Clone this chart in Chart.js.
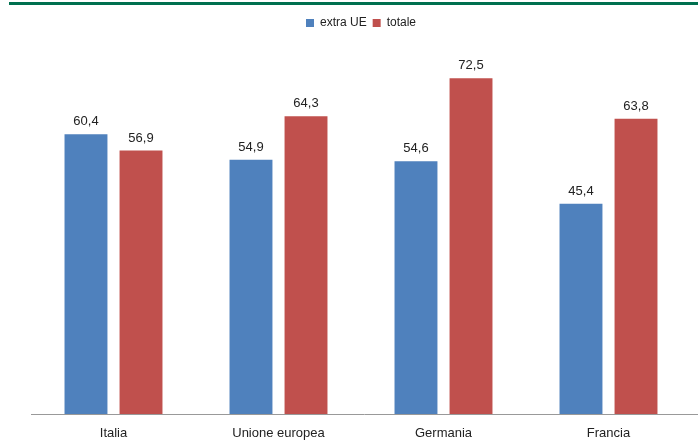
<!DOCTYPE html>
<html>
<head>
<meta charset="utf-8">
<script src="https://cdn.jsdelivr.net/npm/chart.js@4/dist/chart.umd.min.js"></script>
<style>
  html, body { margin: 0; padding: 0; background: #fff; }
  #wrap { position: relative; width: 698px; height: 445px; }
</style>
</head>
<body>
<div id="wrap"><canvas id="c" width="698" height="445"></canvas></div>
<script>
const categories = ['Italia', 'Unione europea', 'Germania', 'Francia'];
const extraUE = [60.4, 54.9, 54.6, 45.4];
const totale = [56.9, 64.3, 72.5, 63.8];
const seriesNames = ['extra UE', 'totale'];

const FONT = "'Liberation Sans', Arial, sans-serif";

const fmt = v => v.toFixed(1).replace('.', ',');

// Green rule across the top, baseline running to the right edge,
// and value labels above each bar
const decor = {
  id: 'decor',
  beforeDraw(chart) {
    const ctx = chart.ctx;
    ctx.save();
    ctx.fillStyle = '#00704f';
    ctx.fillRect(9, 2, 689, 3);
    ctx.restore();
  },
  afterDatasetsDraw(chart) {
    const ctx = chart.ctx;
    const area = chart.chartArea;
    ctx.save();
    ctx.strokeStyle = '#999';
    ctx.lineWidth = 1;
    ctx.beginPath();
    ctx.moveTo(area.left, Math.round(area.bottom) + 0.5);
    ctx.lineTo(chart.width, Math.round(area.bottom) + 0.5);
    ctx.stroke();

    ctx.font = '13px ' + FONT;
    ctx.fillStyle = '#222';
    ctx.textAlign = 'center';
    ctx.textBaseline = 'bottom';
    chart.data.datasets.forEach((ds, i) => {
      chart.getDatasetMeta(i).data.forEach((bar, j) => {
        ctx.fillText(fmt(ds.data[j]), bar.x, bar.y - 6);
      });
    });
    ctx.restore();
  }
};

new Chart(document.getElementById('c'), {
  type: 'bar',
  data: {
    labels: categories,
    datasets: [
      { label: seriesNames[0], data: extraUE, backgroundColor: '#4f81bd' },
      { label: seriesNames[1], data: totale, backgroundColor: '#c0504d' }
    ]
  },
  options: {
    responsive: false,
    animation: false,
    devicePixelRatio: 1,
    layout: { padding: { left: 31, right: 7, top: 11, bottom: 0 } },
    datasets: { bar: { categoryPercentage: 0.667, barPercentage: 0.78 } },
    plugins: {
      legend: {
        position: 'top',
        labels: {
          font: { family: FONT, size: 12 },
          color: '#222',
          boxWidth: 8,
          boxHeight: 8,
          padding: 6
        }
      },
      tooltip: { enabled: false }
    },
    scales: {
      x: {
        grid: { display: false },
        border: { display: false },
        ticks: { font: { family: FONT, size: 13 }, color: '#222', padding: 4 },
        afterFit(scale) { scale.height = 31; }
      },
      y: {
        display: false,
        min: 0,
        max: 81
      }
    }
  },
  plugins: [decor]
});
</script>
</body>
</html>
